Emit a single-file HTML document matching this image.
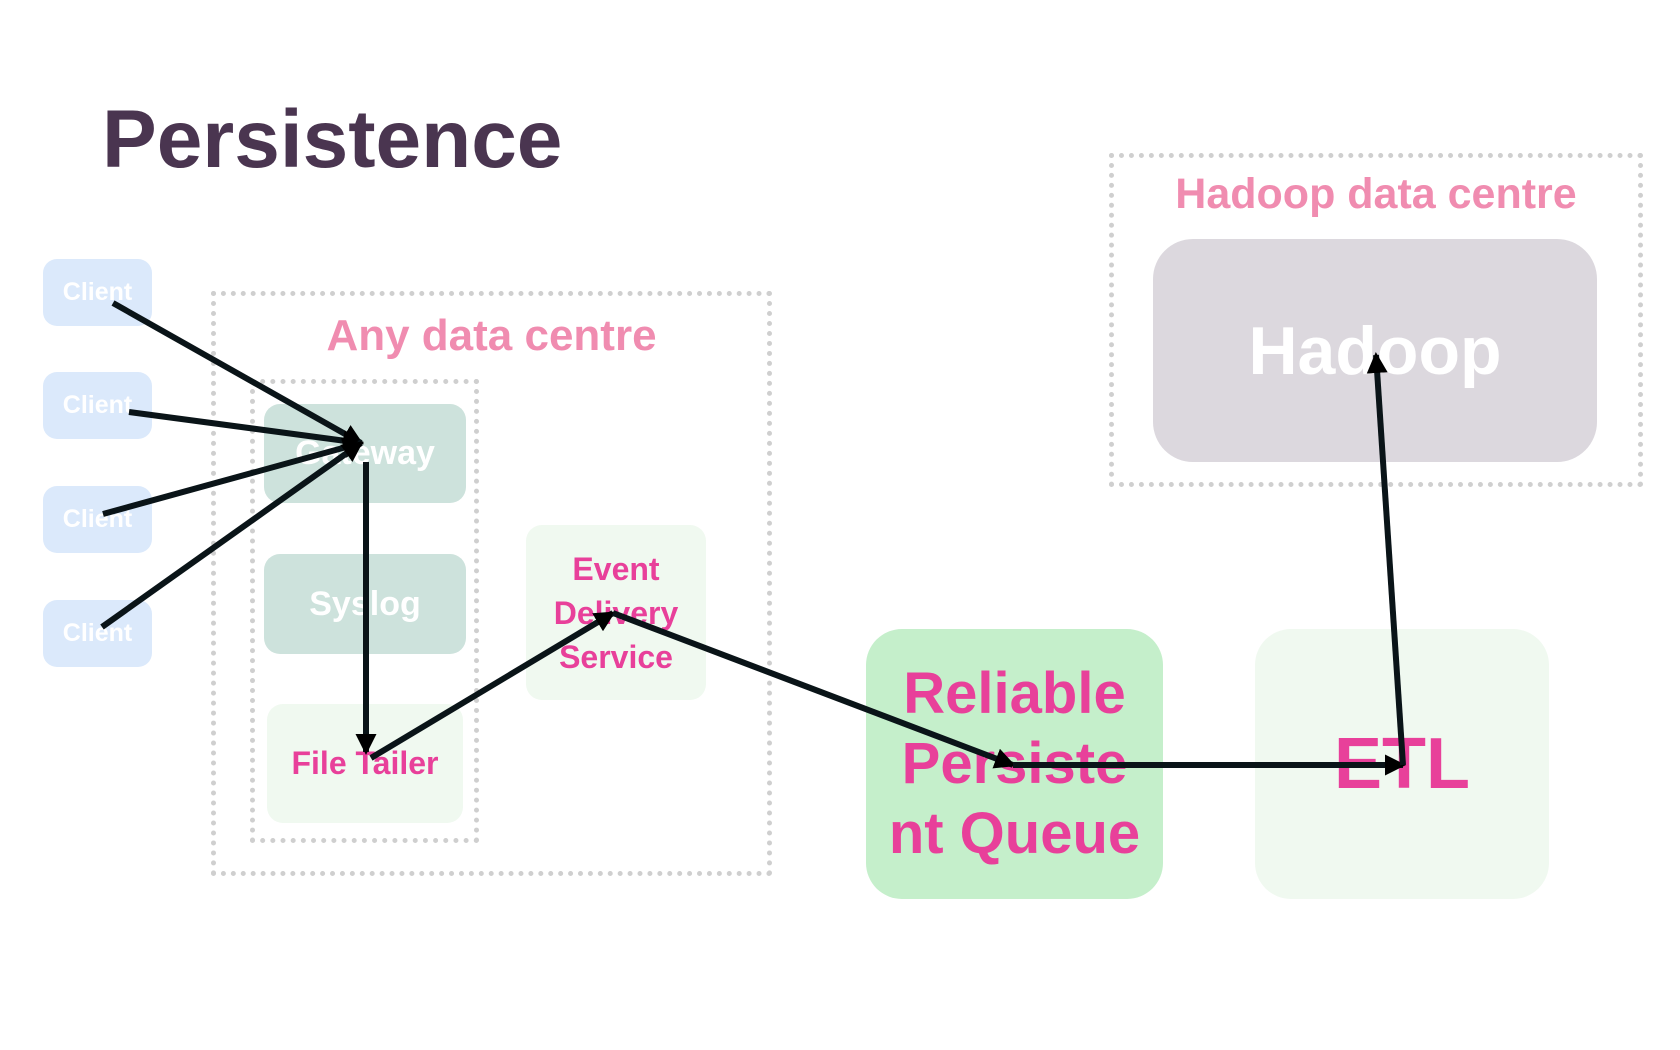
<!DOCTYPE html>
<html><head><meta charset="utf-8"><style>
body{margin:0;width:1680px;height:1050px;background:#fff;position:relative;overflow:hidden;font-family:"Liberation Sans",sans-serif;font-weight:bold}
.a{position:absolute;box-sizing:border-box;display:flex;align-items:center;justify-content:center;text-align:center}
.d{position:absolute;box-sizing:border-box;border:5px dotted #cfcfcf}
.c{background:#dbe9fb;border-radius:14px;color:#fff;font-size:25px;left:43px;width:109px;height:67px}
.g{background:#cde2dc;border-radius:16px;color:#fff;font-size:34px}
.p{color:#e8409a}
</style></head><body>
<div class="a" style="left:102px;top:93px;font-size:82px;color:#4a3550">Persistence</div>
<div class="d" style="left:1109px;top:153px;width:534px;height:334px"></div>
<div class="a" style="left:1109px;top:170px;width:534px;font-size:43px;color:#f08cb0">Hadoop data centre</div>
<div class="a" style="left:1153px;top:239px;width:444px;height:223px;background:#dcd8de;border-radius:40px;color:#fff;font-size:68px">Hadoop</div>
<div class="d" style="left:211px;top:291px;width:561px;height:585px"></div>
<div class="a" style="left:211px;top:311px;width:561px;font-size:44px;color:#f08cb0">Any data centre</div>
<div class="d" style="left:250px;top:379px;width:229px;height:464px"></div>
<div class="a g" style="left:264px;top:404px;width:202px;height:99px">Gateway</div>
<div class="a g" style="left:264px;top:554px;width:202px;height:100px">Syslog</div>
<div class="a p" style="left:267px;top:704px;width:196px;height:119px;background:#f0f9f0;border-radius:16px;font-size:32px">File Tailer</div>
<div class="a p" style="left:526px;top:525px;width:180px;height:175px;background:#f0f9f0;border-radius:16px;font-size:32px;line-height:44px">Event<br>Delivery<br>Service</div>
<div class="a p" style="left:866px;top:629px;width:297px;height:270px;background:#c5efcb;border-radius:36px;font-size:58px;line-height:70px">Reliable<br>Persiste<br>nt Queue</div>
<div class="a p" style="left:1255px;top:629px;width:294px;height:270px;background:#f0f9f0;border-radius:36px;font-size:72px">ETL</div>
<div class="a c" style="top:259px">Client</div>
<div class="a c" style="top:372px">Client</div>
<div class="a c" style="top:486px">Client</div>
<div class="a c" style="top:600px">Client</div>
<svg width="1680" height="1050" style="position:absolute;left:0;top:0">
<defs><marker id="m" markerWidth="3.5" markerHeight="3.5" refX="3" refY="1.75" orient="auto"><path d="M0,0L3.5,1.75L0,3.5z" fill="#000"/></marker></defs>
<g stroke="#0a1418" stroke-width="6" fill="none" marker-end="url(#m)">
<line x1="113" y1="303" x2="361" y2="443"/>
<line x1="129" y1="412" x2="361" y2="443"/>
<line x1="103" y1="514" x2="361" y2="443"/>
<line x1="102" y1="627" x2="361" y2="443"/>
<line x1="366" y1="462" x2="366" y2="752"/>
<line x1="371" y1="758" x2="613" y2="613"/>
<line x1="613" y1="613" x2="1013" y2="765"/>
<line x1="1013" y1="765" x2="1403" y2="765"/>
<line x1="1403" y1="765" x2="1376" y2="355"/>
</g></svg>
</body></html>
